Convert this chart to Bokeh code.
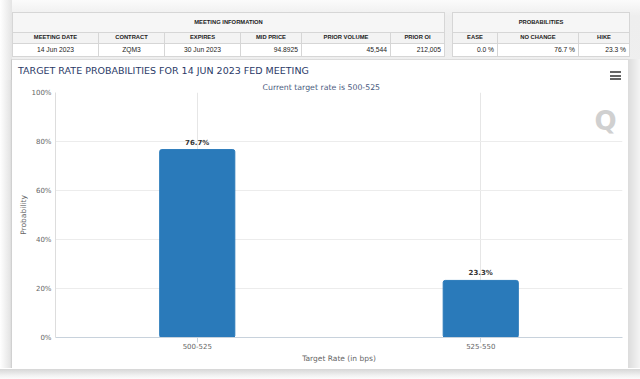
from bokeh.plotting import figure
from bokeh.models import (ColumnDataSource, FactorRange, Range1d, FixedTicker,
                          PrintfTickFormatter, Label, LabelSet, Div)
from bokeh.layouts import column, row
from bokeh.embed import file_html
from bokeh.resources import INLINE
from bokeh.core.properties import value

# ---------------- data ----------------
meeting_title = "MEETING INFORMATION"
meeting_cols = ["MEETING DATE", "CONTRACT", "EXPIRES", "MID PRICE", "PRIOR VOLUME", "PRIOR OI"]
meeting_vals = ["14 Jun 2023", "ZQM3", "30 Jun 2023", "94.8925", "45,544", "212,005"]
prob_title = "PROBABILITIES"
prob_cols = ["EASE", "NO CHANGE", "HIKE"]
prob_vals = ["0.0 %", "76.7 %", "23.3 %"]

chart_title = "TARGET RATE PROBABILITIES FOR 14 JUN 2023 FED MEETING"
chart_subtitle = "Current target rate is 500-525"
rates = ["500-525", "525-550"]
probs = [76.7, 23.3]
y_ticks = [0, 20, 40, 60, 80, 100]

# ---------------- table + heading (HTML) ----------------
meeting_widths = [86, 66, 76, 61, 89, 54]
meeting_align = ["center", "center", "center", "right", "right", "right"]
prob_widths = [45, 81, 51]
prob_align = ["right", "right", "right"]

BORDER = "1px solid #d6d6d6"
FONT = "'Liberation Sans', Arial, sans-serif"


def make_table(title, cols, vals, widths, aligns):
    tw = sum(widths)
    colgroup = "".join(f'<col style="width:{w}px">' for w in widths)
    head = (f'<tr style="height:20px;background:#f6f6f6"><td colspan="{len(cols)}" '
            f'style="text-align:center;font-weight:bold;border:{BORDER};padding:0">{title}</td></tr>')
    hdr = ('<tr style="height:11px;background:#f3f3f3">' +
           "".join(f'<td style="text-align:center;font-weight:bold;border:{BORDER};padding:0;'
                   f'white-space:nowrap;overflow:hidden">{c}</td>' for c in cols) + '</tr>')
    data = ('<tr style="height:13px;background:#ffffff">' +
            "".join(f'<td style="text-align:{a};border:{BORDER};padding:0 3px;font-size:6.7px;'
                    f'white-space:nowrap">{v}</td>' for v, a in zip(vals, aligns)) + '</tr>')
    return (f'<table style="table-layout:fixed;border-collapse:collapse;width:{tw}px;'
            f'font-family:{FONT};font-size:5.8px;color:#222;line-height:1">'
            f'{colgroup}{head}{hdr}{data}</table>')


left_tbl = make_table(meeting_title, meeting_cols, meeting_vals, meeting_widths, meeting_align)
right_tbl = make_table(prob_title, prob_cols, prob_vals, prob_widths, prob_align)

bar = '<div style="width:11px;height:2px;background:#666;margin-bottom:1.5px"></div>'
top_html = (
    '<div style="position:relative;width:640px;height:80px;overflow:hidden;'
    'background:linear-gradient(to bottom,#fbfbfb,#eeeeee 20%,#efefef)">'
    '<div style="position:absolute;left:0;top:0;width:12px;height:80px;'
    'background:linear-gradient(to right,#ffffff,#e4e4e4)"></div>'
    f'<div style="position:absolute;left:12px;top:12px">{left_tbl}</div>'
    f'<div style="position:absolute;left:452px;top:12px">{right_tbl}</div>'
    '<div style="position:absolute;left:11px;top:59px;width:617px;height:21px;background:#fff;'
    'border-left:1px solid #c9c9c9;border-top:1px solid #dcdcdc"></div>'
    '<div style="position:absolute;left:628px;top:59px;width:12px;height:21px;'
    'background:linear-gradient(to right,#dcdcdc,#f4f4f4)"></div>'
    f'<div style="position:absolute;left:18px;top:65px;font-family:\'DejaVu Sans\';font-size:9.5px;'
    f'line-height:12px;color:#2b3a67;white-space:nowrap">{chart_title}</div>'
    f'<div style="position:absolute;left:610px;top:71px">{bar}{bar}{bar}</div>'
    '</div>')
top_div = Div(text=top_html, width=640, height=80, margin=0)

left_div = Div(text='<div style="width:12px;height:288px;'
                    'background:linear-gradient(to right,#ffffff,#e4e4e4 85%,#c9c9c9)"></div>',
               width=12, height=288, margin=0)
right_div = Div(text='<div style="width:12px;height:288px;'
                     'background:linear-gradient(to right,#dcdcdc,#f4f4f4)"></div>',
                width=12, height=288, margin=0)
bottom_div = Div(text='<div style="width:640px;height:11px;'
                      'background:linear-gradient(to bottom,#d6d6d6,#f2f2f2 60%,#ffffff)"></div>',
                 width=640, height=11, margin=0)

# ---------------- chart ----------------
src = ColumnDataSource(dict(rate=rates, prob=probs, label=[f"{v}%" for v in probs]))

p = figure(x_range=FactorRange(factors=rates, range_padding=0),
           y_range=Range1d(0, 100),
           width=616, height=288, output_backend="svg", toolbar_location=None,
           min_border_left=43, min_border_right=6, min_border_top=12, min_border_bottom=31,
           background_fill_color="white", border_fill_color="white")
p.outline_line_color = None

# subtitle
p.title.text = chart_subtitle
p.title.align = "left"
p.title.offset = 207
p.title.standoff = 1
p.title.text_font = "DejaVu Sans"
p.title.text_font_size = "7.8px"
p.title.text_font_style = "normal"
p.title.text_color = "#4a5a7e"

p.vbar(x="rate", top="prob", width=0.265, source=src, fill_color="#2a7aba",
       line_color="#2a7aba", border_radius=2)

p.add_layout(LabelSet(x="rate", y="prob", text="label", source=src, y_offset=3,
                      text_align="center", text_baseline="bottom",
                      text_font=value("DejaVu Sans"), text_font_size="7px",
                      text_font_style="bold", text_color="#333333"))

# grids
p.xgrid.grid_line_color = "#e6e6e6"
p.ygrid.grid_line_color = "#ececec"
p.ygrid.ticker = FixedTicker(ticks=y_ticks)

# y axis
ya = p.yaxis[0]
ya.ticker = FixedTicker(ticks=y_ticks)
ya.formatter = PrintfTickFormatter(format="%d%%")
ya.major_tick_line_color = None
ya.major_tick_out = 0
ya.major_tick_in = 0
ya.minor_tick_line_color = None
ya.minor_tick_out = 0
ya.axis_line_color = "#dddddd"
ya.major_label_text_font = "DejaVu Sans"
ya.major_label_text_font_size = "7px"
ya.major_label_text_color = "#666666"
ya.major_label_standoff = 4
ya.axis_label = "Probability"
ya.axis_label_text_font = "DejaVu Sans"
ya.axis_label_text_font_size = "7.5px"
ya.axis_label_text_font_style = "normal"
ya.axis_label_text_color = "#666666"
ya.axis_label_standoff = 0

# x axis
xa = p.xaxis[0]
xa.axis_line_color = "#c8d2dc"
xa.major_tick_line_color = "#c8d2dc"
xa.major_tick_in = 0
xa.major_tick_out = 5
xa.minor_tick_line_color = None
xa.major_label_text_font = "DejaVu Sans"
xa.major_label_text_font_size = "7px"
xa.major_label_text_color = "#666666"
xa.major_label_standoff = 0
xa.axis_label = "Target Rate (in bps)"
xa.axis_label_text_font = "DejaVu Sans"
xa.axis_label_text_font_size = "7.5px"
xa.axis_label_text_font_style = "normal"
xa.axis_label_text_color = "#666666"
xa.axis_label_standoff = 2

# watermark
p.add_layout(Label(x=550, y=217, x_units="screen", y_units="screen", text="Q",
                   text_align="center", text_baseline="middle",
                   text_font="DejaVu Sans", text_font_size="26px",
                   text_font_style="bold", text_color="#d0d0d0"))

layout = column(top_div, row(left_div, p, right_div, spacing=0), bottom_div, spacing=0)

with open("out.html", "w") as f:
    f.write(file_html(layout, INLINE))
